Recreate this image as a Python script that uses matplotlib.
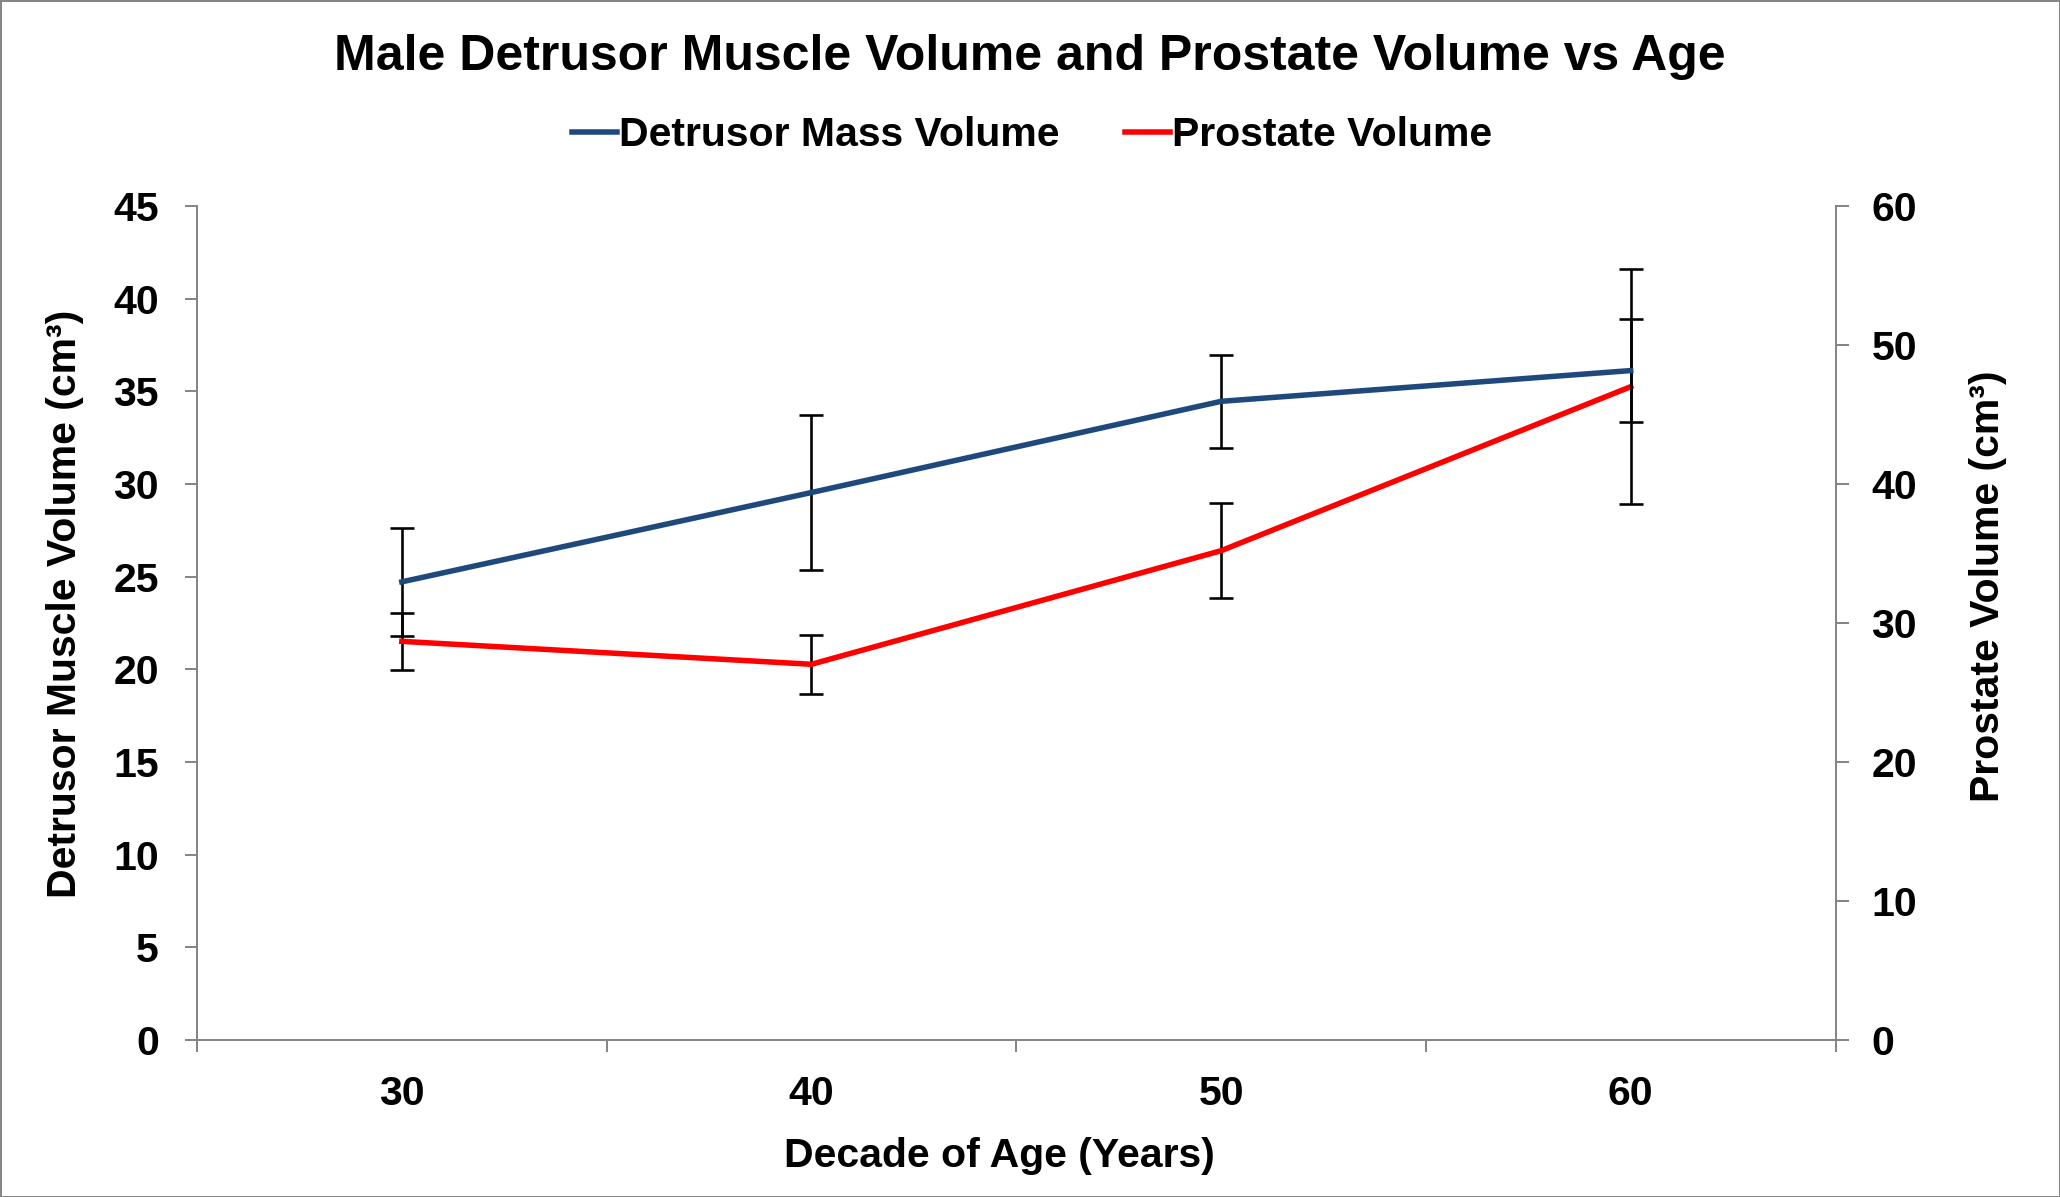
import matplotlib
matplotlib.use("Agg")
import matplotlib.pyplot as plt
import numpy as np
from matplotlib.patches import Rectangle
from matplotlib.lines import Line2D

plt.rcParams['font.family'] = ['Liberation Sans', 'DejaVu Sans']
plt.rcParams['font.weight'] = 'bold'

# ---- data ----
ages = ["30", "40", "50", "60"]
detrusor = [24.72, 29.54, 34.46, 36.12]
detrusor_err = [2.91, 4.17, 2.50, 2.78]
prostate = [28.68, 27.03, 35.20, 47.00]
prostate_err = [2.06, 2.12, 3.40, 8.45]
left_ticks = [0, 5, 10, 15, 20, 25, 30, 35, 40, 45]
right_ticks = [0, 10, 20, 30, 40, 50, 60]

DPI = 100
W, H = 2060, 1197
fig = plt.figure(figsize=(W / DPI, H / DPI), dpi=DPI)

def px2pt(p):
    return p * 72.0 / DPI

fs = px2pt(41)
gray = '#868686'
blue = '#1F497D'
red = '#FF0000'

ax_l, ax_r, ax_b, ax_t = 197, 1835.5, 1040, 206
ax = fig.add_axes([ax_l / W, 1 - ax_b / H, (ax_r - ax_l) / W, (ax_b - ax_t) / H])
ax2 = ax.twinx()

x = np.arange(len(ages))

ax2.errorbar(x, prostate, yerr=prostate_err, color=red, lw=px2pt(5.5),
             ecolor='black', elinewidth=px2pt(2.6), capsize=px2pt(12),
             capthick=px2pt(2.6), label='Prostate Volume', zorder=2)
ax.errorbar(x, detrusor, yerr=detrusor_err, color=blue, lw=px2pt(5.5),
            ecolor='black', elinewidth=px2pt(2.6), capsize=px2pt(12),
            capthick=px2pt(2.6), label='Detrusor Mass Volume', zorder=3)

ax.set_zorder(ax2.get_zorder() + 1)
ax.patch.set_visible(False)

ax.set_xlim(-0.5, len(ages) - 0.5)
ax.set_ylim(0, 45)
ax2.set_ylim(0, 60)
ax.set_yticks(left_ticks)
ax2.set_yticks(right_ticks)
ax.set_xticks(x)
ax.set_xticklabels(ages)
ax.set_xticks(np.arange(-0.5, len(ages)), minor=True)

for a in (ax, ax2):
    for s in a.spines.values():
        s.set_color(gray)
        s.set_linewidth(px2pt(2))
    a.spines['top'].set_visible(False)

ax.spines['right'].set_visible(False)
ax2.spines['left'].set_visible(False)
ax2.spines['bottom'].set_visible(False)

ax.tick_params(axis='y', which='major', length=px2pt(12), width=px2pt(2),
               color=gray, pad=px2pt(26), labelsize=fs)
ax2.tick_params(axis='y', which='major', length=px2pt(13), width=px2pt(2),
                color=gray, pad=px2pt(23), labelsize=fs)
ax.tick_params(axis='x', which='major', length=0, pad=px2pt(35), labelsize=fs)
ax.tick_params(axis='x', which='minor', length=px2pt(12), width=px2pt(2), color=gray)

for lbl in ax.get_yticklabels() + ax2.get_yticklabels() + ax.get_xticklabels():
    lbl.set_fontweight('bold')

ax.set_ylabel('Detrusor Muscle Volume (cm³)', fontsize=fs, fontweight='bold')
ax.yaxis.set_label_coords(-0.069, 0.523)
ax2.set_ylabel('Prostate Volume (cm³)', fontsize=fs, fontweight='bold', rotation=90)
ax2.yaxis.set_label_coords(1.0812, 0.544)
ax.set_xlabel('Decade of Age (Years)', fontsize=fs, fontweight='bold')
ax.xaxis.label.set_va('baseline')
ax.xaxis.set_label_coords(0.49, (ax_b - 1167) / (ax_b - ax_t))

fig.text(0.5, 1 - 70 / H, 'Male Detrusor Muscle Volume and Prostate Volume vs Age',
         ha='center', va='baseline', fontsize=px2pt(50), fontweight='bold')

hs = [Line2D([], [], color=blue, lw=px2pt(5.5)), Line2D([], [], color=red, lw=px2pt(5.5))]
fig.legend(hs, ['Detrusor Mass Volume', 'Prostate Volume'], loc='center',
           bbox_to_anchor=(1032 / W, 1 - 135 / H), ncol=2, frameon=False,
           prop={'size': fs, 'weight': 'bold'}, handlelength=45 / 41,
           handletextpad=0.05, columnspacing=65 / 41, borderpad=0)

fig.patches.append(Rectangle((0, 0), 1, 1, transform=fig.transFigure, fill=False,
                             edgecolor=gray, linewidth=px2pt(3)))

fig.savefig('out.png', dpi=DPI)
